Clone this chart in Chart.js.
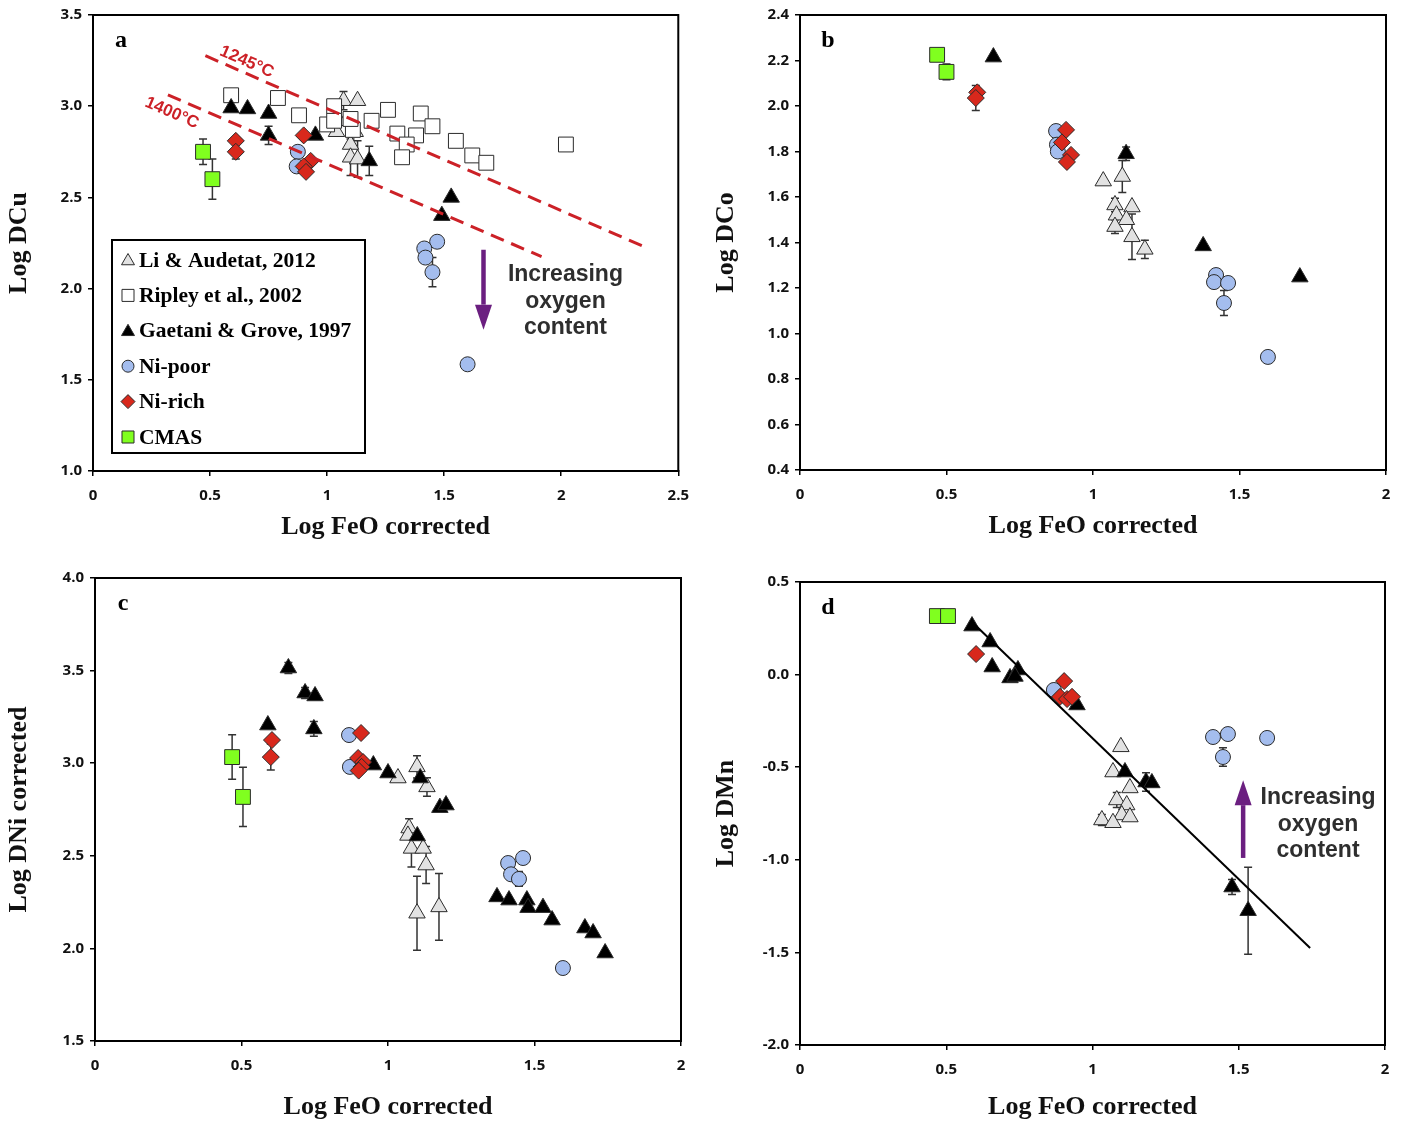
<!DOCTYPE html>
<html lang="en">
<head>
<meta charset="UTF-8" />
<title>Log D vs Log FeO corrected</title>
<script src="https://cdn.jsdelivr.net/npm/chart.js"></script>
<style>
  body { margin: 0; background: #fff; width: 1405px; height: 1123px; position: relative; overflow: hidden; }
  canvas { position: absolute; }
  #ca { left: 0; top: 0; }
  #cb { left: 705px; top: 0; }
  #cc { left: 0; top: 560px; }
  #cd { left: 705px; top: 560px; }
</style>
</head>
<body>
<canvas id="ca" width="700" height="560"></canvas>
<canvas id="cb" width="700" height="560"></canvas>
<canvas id="cc" width="700" height="563"></canvas>
<canvas id="cd" width="700" height="563"></canvas>
<script>
// points are [log FeO corrected, log D, error]

// (a) Cu
const aLi = [[1.07, 3.03, 0.05], [1.13, 3.03, 0], [1.04, 2.86, 0], [1.08, 2.92, 0], [1.12, 2.86, 0],
             [1.10, 2.79, 0.06], [1.10, 2.72, 0.1], [1.13, 2.71, 0.1]];
const aRipley = [[0.59, 3.06], [0.79, 3.045], [0.88, 2.95], [1.00, 2.90], [1.03, 3.00], [1.03, 2.92],
                 [1.11, 2.87], [1.10, 2.93], [1.19, 2.92], [1.26, 2.98], [1.30, 2.85], [1.40, 2.96],
                 [1.45, 2.89], [1.38, 2.84], [1.34, 2.79], [1.32, 2.72], [1.55, 2.81], [1.62, 2.73],
                 [1.68, 2.69], [2.02, 2.79]];
const aGaetani = [[0.59, 2.99, 0], [0.66, 2.985, 0], [0.75, 2.96, 0], [0.75, 2.84, 0.05], [0.95, 2.84, 0],
                  [1.18, 2.70, 0.08], [1.53, 2.50, 0], [1.49, 2.40, 0]];
const aNiPoor = [[0.875, 2.75, 0], [0.87, 2.67, 0], [1.47, 2.257, 0], [1.415, 2.22, 0], [1.42, 2.17, 0],
                 [1.45, 2.09, 0.08], [1.60, 1.585, 0.03]];
const aNiRich = [[0.61, 2.81, 0], [0.61, 2.75, 0.04], [0.90, 2.84, 0], [0.93, 2.70, 0], [0.90, 2.67, 0], [0.91, 2.64, 0]];
const aCMAS = [[0.47, 2.75, 0.07], [0.51, 2.60, 0.11]];
const aLine1245 = [[0.48, 3.277], [2.355, 2.229]];
const aLine1400 = [[0.32, 3.062], [1.916, 2.175]];
const aArrow = [1.668, 2.213, 1.775];

// (b) Co
const bLi = [[1.035, 1.67, 0], [1.10, 1.69, 0.07], [1.075, 1.565, 0.03], [1.133, 1.556, 0], [1.08, 1.52, 0],
             [1.114, 1.50, 0], [1.075, 1.47, 0.03], [1.133, 1.425, 0.1], [1.177, 1.37, 0.04]];
const bGaetani = [[0.66, 2.215, 0], [1.113, 1.79, 0.03], [1.376, 1.385, 0], [1.706, 1.248, 0]];
const bNiPoor = [[0.874, 1.89, 0], [0.877, 1.83, 0], [0.88, 1.80, 0], [1.42, 1.257, 0], [1.413, 1.226, 0],
                 [1.461, 1.222, 0], [1.447, 1.134, 0.055], [1.597, 0.897, 0]];
const bNiRich = [[0.605, 2.06, 0], [0.60, 2.035, 0.055], [0.908, 1.895, 0], [0.894, 1.84, 0], [0.925, 1.785, 0], [0.911, 1.754, 0]];
const bCMAS = [[0.468, 2.225, 0], [0.50, 2.15, 0.035]];

// (c) Ni
const cLi = [[1.034, 2.92, 0], [1.099, 2.98, 0.06], [1.133, 2.872, 0.05], [1.072, 2.65, 0.05], [1.068, 2.61, 0],
             [1.08, 2.54, 0.1], [1.12, 2.54, 0], [1.13, 2.45, 0.1], [1.099, 2.19, 0.2], [1.174, 2.224, 0.18]];
const cGaetani = [[0.59, 3.206, 0], [0.66, 3.514, 0.03], [0.717, 3.379, 0.03], [0.751, 3.363, 0], [0.747, 3.185, 0.04],
                  [0.95, 2.99, 0], [1.0, 2.947, 0], [1.11, 2.92, 0], [1.177, 2.76, 0], [1.198, 2.774, 0],
                  [1.10, 2.607, 0], [1.372, 2.278, 0], [1.413, 2.261, 0], [1.474, 2.261, 0], [1.478, 2.22, 0],
                  [1.529, 2.22, 0], [1.56, 2.153, 0], [1.672, 2.11, 0], [1.70, 2.083, 0], [1.741, 1.975, 0]];
const cNiPoor = [[0.867, 3.152, 0], [0.87, 2.98, 0], [1.41, 2.461, 0.03], [1.461, 2.488, 0], [1.42, 2.40, 0],
                 [1.447, 2.375, 0.04], [1.597, 1.894, 0]];
const cNiRich = [[0.604, 3.125, 0], [0.60, 3.033, 0.07], [0.908, 3.163, 0], [0.898, 3.028, 0], [0.915, 3.006, 0],
                 [0.91, 2.98, 0], [0.90, 2.96, 0]];
const cCMAS = [[0.468, 3.033, 0.12], [0.505, 2.818, 0.16]];

// (d) Mn
const dLi = [[1.097, -0.39, 0], [1.07, -0.526, 0], [1.128, -0.612, 0], [1.083, -0.677, 0.04], [1.117, -0.704, 0],
             [1.10, -0.758, 0], [1.128, -0.769, 0], [1.032, -0.785, 0.03], [1.07, -0.80, 0]];
const dGaetani = [[0.588, 0.262, 0], [0.65, 0.176, 0], [0.657, 0.041, 0], [0.718, -0.018, 0], [0.745, 0.025, 0],
                  [0.735, -0.01, 0], [0.947, -0.164, 0], [1.111, -0.526, 0], [1.183, -0.58, 0.05], [1.203, -0.585, 0],
                  [1.477, -1.147, 0.04], [1.532, -1.275, 0.235]];
const dNiPoor = [[0.868, -0.083, 0], [1.412, -0.337, 0], [1.463, -0.321, 0], [1.446, -0.445, 0.05], [1.597, -0.342, 0]];
const dNiRich = [[0.602, 0.111, 0], [0.903, -0.035, 0], [0.889, -0.12, 0], [0.913, -0.132, 0], [0.93, -0.12, 0]];
const dCMAS = [[0.468, 0.316, 0], [0.506, 0.316, 0]];
const dFit = [[0.588, 0.284], [1.744, -1.476]];
const dArrow = [1.515, -0.99, -0.57];

// axis ranges [min, max, step]
const xRangeA = [0, 2.5, 0.5];
const xRangeBCD = [0, 2, 0.5];
const yRangeA = [1.0, 3.5, 0.5];
const yRangeB = [0.4, 2.4, 0.2];
const yRangeC = [1.5, 4.0, 0.5];
const yRangeD = [-2.0, 0.5, 0.5];

const oxygenText = ['Increasing', 'oxygen', 'content'];

const seriesStyle = {
  NiRich:  { label: 'Ni-rich', shape: 'rectRot', r: 8.5, fill: '#d8281c' },
  CMAS:    { label: 'CMAS', shape: 'rect', r: 10.5, fill: '#80ff1f' },
  NiPoor:  { label: 'Ni-poor', shape: 'circle', r: 7.5, fill: '#a4bdee' },
  Gaetani: { label: 'Gaetani & Grove, 1997', shape: 'triangle', r: 9.5, fill: '#000000' },
  Ripley:  { label: 'Ripley et al., 2002', shape: 'rect', r: 10.5, fill: '#ffffff' },
  Li:      { label: 'Li & Audetat, 2012', shape: 'triangle', r: 9.5, fill: '#e2e2e2' }
};
const drawOrder = ['NiRich', 'CMAS', 'NiPoor', 'Gaetani', 'Ripley', 'Li'];   // first is on top
const legendOrder = ['Li', 'Ripley', 'Gaetani', 'NiPoor', 'NiRich', 'CMAS'];

const RED = '#cc2127';
const PURPLE = '#6b1f80';
const tickFont = { family: "'Open Sans', sans-serif", size: 15, weight: 'bold' };
const titleFont = { family: "'Liberation Serif', serif", size: 26, weight: 'bold' };

function drawMarker(ctx, shape, x, y, r, fill) {
  ctx.beginPath();
  if (shape === 'triangle') {
    ctx.moveTo(x, y - r);
    ctx.lineTo(x + r * 0.866, y + r / 2);
    ctx.lineTo(x - r * 0.866, y + r / 2);
  } else if (shape === 'rect') {
    const s = r * Math.SQRT1_2;
    ctx.rect(x - s, y - s, 2 * s, 2 * s);
  } else if (shape === 'rectRot') {
    ctx.moveTo(x, y - r); ctx.lineTo(x + r, y); ctx.lineTo(x, y + r); ctx.lineTo(x - r, y);
  } else {
    ctx.arc(x, y, r, 0, Math.PI * 2);
  }
  ctx.closePath();
  ctx.fillStyle = fill;
  ctx.fill();
  ctx.lineWidth = 1;
  ctx.strokeStyle = '#2b2b2b';
  ctx.stroke();
}

function drawArrow(ctx, x, yFrom, yTo) {
  const dir = Math.sign(yTo - yFrom);
  const head = 25, half = 8.5;
  ctx.save();
  ctx.strokeStyle = PURPLE;
  ctx.fillStyle = PURPLE;
  ctx.lineWidth = 4.5;
  ctx.beginPath();
  ctx.moveTo(x, yFrom);
  ctx.lineTo(x, yTo - dir * head);
  ctx.stroke();
  ctx.beginPath();
  ctx.moveTo(x - half, yTo - dir * head);
  ctx.lineTo(x + half, yTo - dir * head);
  ctx.lineTo(x, yTo);
  ctx.closePath();
  ctx.fill();
  ctx.restore();
}

// vertical error bars behind the markers
const errorBarPlugin = {
  id: 'errorBars',
  beforeDatasetsDraw(chart) {
    const { ctx, scales: { y } } = chart;
    ctx.save();
    ctx.strokeStyle = '#333';
    ctx.lineWidth = 1.5;
    chart.data.datasets.forEach((ds, i) => {
      if (!ds.errs) return;
      const meta = chart.getDatasetMeta(i);
      ds.errs.forEach((e, j) => {
        if (!e) return;
        const pt = meta.data[j];
        const v = ds.data[j].y;
        const top = y.getPixelForValue(v + e), bot = y.getPixelForValue(v - e);
        ctx.beginPath();
        ctx.moveTo(pt.x, top); ctx.lineTo(pt.x, bot);
        ctx.moveTo(pt.x - 4, top); ctx.lineTo(pt.x + 4, top);
        ctx.moveTo(pt.x - 4, bot); ctx.lineTo(pt.x + 4, bot);
        ctx.stroke();
      });
    });
    ctx.restore();
  }
};

// box around plot area, panel letter, arrows, annotations, legend
const decorPlugin = {
  id: 'decor',
  afterDraw(chart, args, opts) {
    const { ctx, chartArea: ca, scales: { x, y } } = chart;
    ctx.save();
    ctx.strokeStyle = '#000';
    ctx.lineWidth = 2;
    ctx.strokeRect(ca.left, ca.top, ca.right - ca.left, ca.bottom - ca.top);

    ctx.fillStyle = '#000';
    ctx.font = "bold 24px 'Liberation Serif', serif";
    ctx.textAlign = 'center';
    ctx.textBaseline = 'middle';
    ctx.fillText(opts.letter, ca.left + 28, ca.top + 26);

    if (opts.arrow) {
      const [ax, y0, y1] = opts.arrow;
      drawArrow(ctx, x.getPixelForValue(ax), y.getPixelForValue(y0), y.getPixelForValue(y1));
    }
    if (opts.note) {
      ctx.fillStyle = '#2e2e2e';
      ctx.font = "bold 23px 'Liberation Sans', Arial, sans-serif";
      const nx = x.getPixelForValue(opts.note.x), ny = y.getPixelForValue(opts.note.y);
      opts.note.lines.forEach((t, k) => ctx.fillText(t, nx, ny + k * 26.5));
    }
    (opts.tempLabels || []).forEach(t => {
      const p0 = t.line[0], p1 = t.line[1];
      const ang = Math.atan2(y.getPixelForValue(p1[1]) - y.getPixelForValue(p0[1]),
                             x.getPixelForValue(p1[0]) - x.getPixelForValue(p0[0]));
      ctx.save();
      ctx.translate(x.getPixelForValue(t.x), y.getPixelForValue(t.y));
      ctx.rotate(ang);
      ctx.fillStyle = RED;
      ctx.font = "bold 17px 'Liberation Sans', Arial, sans-serif";
      ctx.fillText(t.text, 0, 0);
      ctx.restore();
    });
    if (opts.legend) {
      const L = opts.legend;
      ctx.lineWidth = 2;
      ctx.strokeStyle = '#000';
      ctx.strokeRect(L.x, L.y, L.w, L.h);
      ctx.textAlign = 'left';
      ctx.font = "bold 21.5px 'Liberation Serif', serif";
      legendOrder.forEach((k, i) => {
        const s = seriesStyle[k];
        const ry = L.y + 20 + i * 35.4;
        const r = { triangle: 7.5, rect: 8.5, circle: 6, rectRot: 7 }[s.shape];
        drawMarker(ctx, s.shape, L.x + 16, ry + (s.shape === 'triangle' ? 1 : 0), r, s.fill);
        ctx.fillStyle = '#000';
        ctx.fillText(s.label, L.x + 27, ry + 1);
      });
    }
    ctx.restore();
  }
};

function pointsDataset(key, pts) {
  const s = seriesStyle[key];
  return {
    label: s.label,
    data: pts.map(p => ({ x: p[0], y: p[1] })),
    errs: pts.map(p => p[2] || 0),
    pointStyle: s.shape,
    pointRadius: s.r,
    pointHoverRadius: s.r,
    backgroundColor: s.fill,
    borderColor: '#2b2b2b',
    borderWidth: 1
  };
}

function lineDataset(pts, color, width, dash) {
  return {
    data: pts.map(p => ({ x: p[0], y: p[1] })),
    showLine: true,
    pointRadius: 0,
    borderColor: color,
    borderWidth: width,
    borderDash: dash
  };
}

function makePanel(id, cfg) {
  const datasets = cfg.lines.concat(
    drawOrder.filter(k => cfg.series[k]).map(k => pointsDataset(k, cfg.series[k])));
  const axisCommon = {
    type: 'linear',
    grid: { drawOnChartArea: false, drawTicks: true, tickLength: 5, color: '#000', lineWidth: 1.5 },
    border: { display: true, color: '#000', width: 2 }
  };
  new Chart(document.getElementById(id), {
    type: 'scatter',
    data: { datasets },
    options: {
      responsive: false,
      animation: false,
      events: [],
      layout: { padding: { top: cfg.padTop, right: cfg.padRight, left: 0, bottom: 0 } },
      plugins: {
        legend: { display: false },
        tooltip: { enabled: false },
        decor: cfg.decor
      },
      scales: {
        x: Object.assign({}, axisCommon, {
          min: cfg.xr[0], max: cfg.xr[1],
          ticks: { stepSize: cfg.xr[2], callback: v => String(v), font: tickFont, color: '#111', padding: 11, maxRotation: 0, autoSkip: false },
          title: { display: true, text: 'Log FeO corrected', font: titleFont, color: '#111', padding: { top: 0, bottom: cfg.xTitlePad } },
          afterFit: s => { s.height = cfg.axisH; }
        }),
        y: Object.assign({}, axisCommon, {
          min: cfg.yr[0], max: cfg.yr[1],
          ticks: { stepSize: cfg.yr[2], callback: v => v.toFixed(1), font: tickFont, color: '#111', padding: 6, autoSkip: false },
          title: { display: true, text: cfg.yTitle, font: titleFont, color: '#111', padding: { top: cfg.yTitlePad, bottom: 0 } },
          afterFit: s => { s.width = cfg.axisW; }
        })
      }
    },
    plugins: [errorBarPlugin, decorPlugin]
  });
}

makePanel('ca', {
  xr: xRangeA, yr: yRangeA, yTitle: 'Log DCu',
  axisW: 93, axisH: 89, padTop: 15, padRight: 20, xTitlePad: 17, yTitlePad: 4,
  series: { Li: aLi, Ripley: aRipley, Gaetani: aGaetani, NiPoor: aNiPoor, NiRich: aNiRich, CMAS: aCMAS },
  lines: [lineDataset(aLine1245, RED, 3, [14, 8]), lineDataset(aLine1400, RED, 3, [14, 8])],
  decor: {
    letter: 'a',
    arrow: aArrow,
    note: { x: 2.018, y: 2.076, lines: oxygenText },
    tempLabels: [
      { text: '1245°C', x: 0.657, y: 3.243, line: aLine1245 },
      { text: '1400°C', x: 0.337, y: 2.963, line: aLine1400 }
    ],
    legend: { x: 112, y: 240, w: 253, h: 213 }
  }
});

makePanel('cb', {
  xr: xRangeBCD, yr: yRangeB, yTitle: 'Log DCo',
  axisW: 95, axisH: 90, padTop: 15, padRight: 19, xTitlePad: 18, yTitlePad: 6,
  series: { Li: bLi, Gaetani: bGaetani, NiPoor: bNiPoor, NiRich: bNiRich, CMAS: bCMAS },
  lines: [],
  decor: { letter: 'b' }
});

makePanel('cc', {
  xr: xRangeBCD, yr: yRangeC, yTitle: 'Log DNi corrected',
  axisW: 95, axisH: 82, padTop: 18, padRight: 19, xTitlePad: 0, yTitlePad: 4,
  series: { Li: cLi, Gaetani: cGaetani, NiPoor: cNiPoor, NiRich: cNiRich, CMAS: cCMAS },
  lines: [],
  decor: { letter: 'c' }
});

makePanel('cd', {
  xr: xRangeBCD, yr: yRangeD, yTitle: 'Log DMn',
  axisW: 95, axisH: 78, padTop: 22, padRight: 20, xTitlePad: 0, yTitlePad: 6,
  series: { Li: dLi, Gaetani: dGaetani, NiPoor: dNiPoor, NiRich: dNiRich, CMAS: dCMAS },
  lines: [lineDataset(dFit, '#000', 2, [])],
  decor: {
    letter: 'd',
    arrow: dArrow,
    note: { x: 1.771, y: -0.666, lines: oxygenText }
  }
});
</script>
</body>
</html>
